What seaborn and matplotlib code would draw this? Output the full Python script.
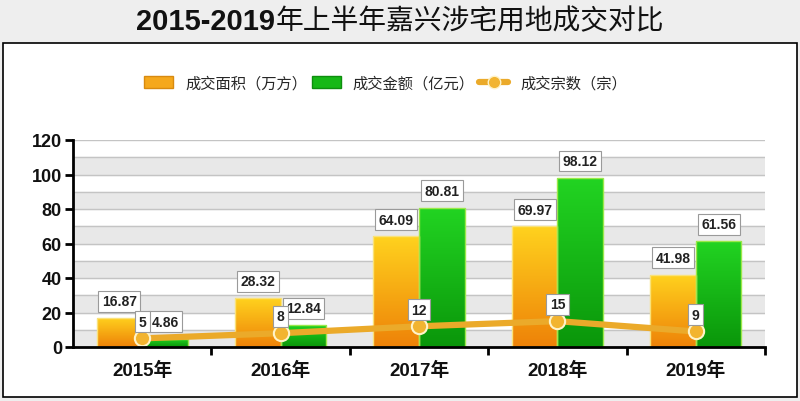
import numpy as np
import pandas as pd
import matplotlib
matplotlib.use("Agg")
import matplotlib.pyplot as plt
import seaborn as sns
from matplotlib.patches import Patch, Rectangle
from matplotlib.lines import Line2D
from matplotlib.colors import LinearSegmentedColormap

years = ["2015年", "2016年", "2017年", "2018年", "2019年"]
area = [16.87, 28.32, 64.09, 69.97, 41.98]        # 成交面积（万方）
amount = [4.86, 12.84, 80.81, 98.12, 61.56]       # 成交金额（亿元）
count = [5, 8, 12, 15, 9]                          # 成交宗数（宗）
series_names = ["成交面积（万方）", "成交金额（亿元）", "成交宗数（宗）"]
title_a = "2015-2019"
title_b = "年上半年嘉兴涉宅用地成交对比"

sns.set_theme(style="white")
plt.rcParams['font.family'] = ['Liberation Sans', 'Noto Sans CJK SC', 'DejaVu Sans']

df = pd.DataFrame({
    "year": years * 2,
    "value": area + amount,
    "series": [series_names[0]] * 5 + [series_names[1]] * 5,
})

fig = plt.figure(figsize=(8, 4.02), dpi=100, facecolor="#EEEEEE")
# white framed panel
fig.patches.append(Rectangle((3 / 800, 1 - 398 / 402), 794 / 800, 354 / 402,
                             transform=fig.transFigure, facecolor="white",
                             edgecolor="black", lw=1.2, zorder=-1))

# title: bold digits + regular CJK, centred as a whole
renderer = fig.canvas.get_renderer()
ta = fig.text(0, 1 - 22 / 402, title_a, ha="left", va="center", fontsize=21,
              fontweight="bold", color="#111111")
tb = fig.text(0, 1 - 22 / 402, title_b, ha="left", va="center", fontsize=20,
              fontweight="medium", color="#111111")
wa = ta.get_window_extent(renderer).width
wb = tb.get_window_extent(renderer).width
start = (800 - (wa + wb)) / 2
ta.set_x(start / 800)
tb.set_x((start + wa) / 800)

ax = fig.add_axes([73 / 800, 1 - 348 / 402, 692 / 800, 207 / 402])
ax.set_zorder(2)
ax.set_facecolor("none")

orange, green = "#F5A81C", "#16B816"
sns.barplot(data=df, x="year", y="value", hue="series", ax=ax,
            palette=[orange, green], width=0.66, gap=0.0, legend=False,
            edgecolor="none", zorder=3)

# gradient fills for bars
cm_o = LinearSegmentedColormap.from_list("o", ["#EE8208", "#FFD21E"])
cm_g = LinearSegmentedColormap.from_list("g", ["#0A960A", "#22D422"])
grad = np.linspace(0, 1, 128).reshape(-1, 1)
bar_patches = [p for p in ax.patches if p.get_height() > 0]
for i, p in enumerate(bar_patches):
    x0, y0 = p.get_x(), p.get_y()
    w, h = p.get_width(), p.get_height()
    cm = cm_o if i < 5 else cm_g
    im = ax.imshow(grad, extent=[x0, x0 + w, y0, y0 + h], origin="lower",
                   cmap=cm, aspect="auto", zorder=3.5)
    im.set_clip_path(p)
    edge = "#F9E27A" if i < 5 else "#9BE84A"
    ax.add_patch(Rectangle((x0, y0), w, h, fill=False, edgecolor=edge,
                           lw=1.0, zorder=3.6))
    lbl = f"{p.get_height():.2f}"
    ax.annotate(lbl, (x0 + w / 2, y0 + h), xytext=(0, 7), textcoords="offset points",
                ha="center", va="bottom", fontsize=10, fontweight="bold", color="#222222",
                bbox=dict(boxstyle="square,pad=0.25", fc="white", ec="#9A9A9A", lw=0.8),
                zorder=6)

# background bands and grid
for lo in range(0, 120, 20):
    ax.axhspan(lo, lo + 10, color="#E8E8E8", zorder=0)
for v in range(10, 121, 10):
    ax.axhline(v, color="#C4C4C4", lw=1, zorder=1)

# count line
sns.lineplot(x=np.arange(len(years)), y=count, ax=ax, color="#EBAA2A", lw=4.5,
             marker="o", markersize=11, markerfacecolor="#F2B430",
             markeredgecolor="#FFF3C8", markeredgewidth=1.5, zorder=5)
for i, c in enumerate(count):
    ax.annotate(str(c), (i, c), xytext=(0, 7), textcoords="offset points",
                ha="center", va="bottom", fontsize=10, fontweight="bold", color="#222222",
                bbox=dict(boxstyle="square,pad=0.25", fc="white", ec="#9A9A9A", lw=0.8),
                zorder=6)

ax.set_xlim(-0.5, 4.5)
ax.set_ylim(0, 120)
ax.set_yticks(range(0, 121, 20))
ax.set_xticks(range(len(years)))
ax.set_xticklabels(years)
ax.set_xticks(np.arange(0.5, 4.6, 1), minor=True)
ax.tick_params(axis="x", which="major", length=0, pad=10, labelsize=13.5, labelcolor="#111111")
ax.tick_params(axis="x", which="minor", length=6, width=2, direction="out", color="black", bottom=True)
ax.tick_params(axis="y", length=6, width=2, direction="out", color="black", left=True,
               labelsize=13, labelcolor="#111111", pad=2)
for t in ax.get_xticklabels() + ax.get_yticklabels():
    t.set_fontweight("bold")
for s in ["top", "right"]:
    ax.spines[s].set_visible(False)
for s in ["left", "bottom"]:
    ax.spines[s].set_color("black")
    ax.spines[s].set_linewidth(2)
    ax.spines[s].set_zorder(7)
ax.set_xlabel("")
ax.set_ylabel("")

handles = [
    Patch(facecolor=orange, edgecolor="#D88A10"),
    Patch(facecolor=green, edgecolor="#0E8E0E"),
    Line2D([0], [0], color="#EBAA2A", lw=4.5, marker="o", markersize=9,
           markerfacecolor="#F2B430", markeredgecolor="#FFF3C8"),
]
fig.legend(handles, series_names, loc="center", bbox_to_anchor=(0.482, 1 - 84 / 402),
           ncol=3, frameon=False, fontsize=11, handlelength=1.9, handleheight=0.8,
           columnspacing=0.3, handletextpad=0.8)

fig.savefig("out.png", dpi=100, facecolor=fig.get_facecolor())
